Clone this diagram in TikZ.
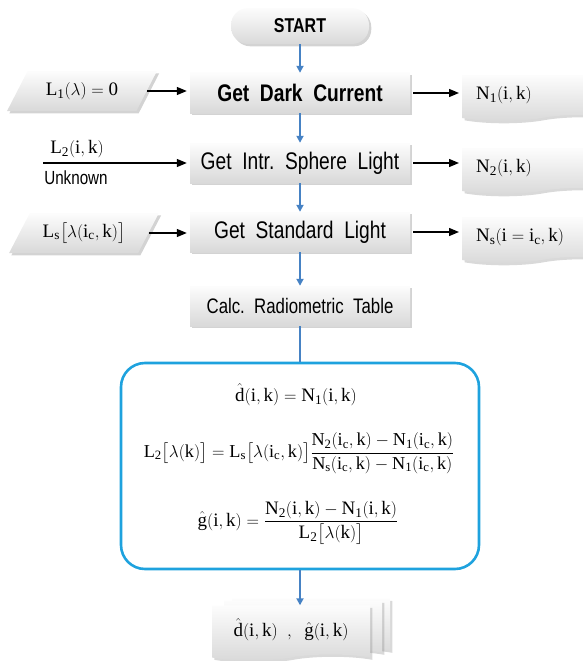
\documentclass[tikz,border=0pt]{standalone}
\usepackage{amsmath}
\usepackage{fontspec}
\setmainfont{Liberation Serif}
\newfontfamily\boxfont[FakeStretch=0.8]{Liberation Sans}
\usetikzlibrary{arrows.meta,shapes.geometric,shapes.symbols,shadows}
\definecolor{flowblue}{RGB}{70,130,196}
\definecolor{framecyan}{RGB}{30,162,222}
\begin{document}
\begin{tikzpicture}[x=1pt,y=-1pt,
    proc/.style={rectangle,top color=gray!2,bottom color=gray!30,drop shadow={opacity=0.35},
      minimum width=220pt,minimum height=40pt,inner sep=2pt,
      font=\boxfont\fontsize{24}{26}\selectfont},
    term/.style={proc,rounded corners=17pt,minimum width=138pt,minimum height=36pt,
      font=\boxfont\bfseries\fontsize{20}{22}\selectfont},
    inp/.style={trapezium,trapezium left angle=58,trapezium right angle=122,
      trapezium stretches=true,top color=gray!2,bottom color=gray!30,
      drop shadow={opacity=0.35},minimum width=150pt,minimum height=40pt,
      font=\fontsize{19}{22}\selectfont},
    docbase/.style={tape,tape bend top=none,tape bend height=6pt,top color=gray!2,
      bottom color=gray!30,drop shadow={opacity=0.3},minimum width=158pt,
      minimum height=55pt,font=\fontsize{19}{22}\selectfont},
    outd/.style={docbase,minimum height=46pt,text width=130pt,inner xsep=14pt,
      align=left,anchor=west},
    flow/.style={flowblue,line width=1.8pt,-{Triangle[length=7pt,width=7pt]}},
    feed/.style={black,line width=1.3pt,-{Triangle[length=10pt,width=8pt]},shorten >=3pt}]
  \clip (0,0) rectangle (583,661);
  % the main steps
  \node[term] (start) at (300,26) {START};
  \node[proc,font=\boxfont\bfseries\fontsize{24}{26}\selectfont] (dark) at (300,93) {Get\ \ Dark\ \ Current};
  \node[proc] (sphere) at (300,163) {Get\ \ Intr.\ \ Sphere\ \ Light};
  \node[proc] (stdl) at (300,232) {Get\ \ Standard\ \ Light};
  \node[proc,font=\boxfont\fontsize{21}{24}\selectfont] (calc) at (300,306) {Calc.\ \ Radiometric\ \ Table};
  \draw[flow] (start) -- (dark);
  \draw[flow] (dark) -- (sphere);
  \draw[flow] (sphere) -- (stdl);
  \draw[flow] (stdl) -- (calc);
  % what goes in
  \node[inp] (l1) at (82,91) {$\mathrm{L_1(\lambda)=0}$};
  \node[inp] (ls) at (84,233) {$\mathrm{L_s\bigl[\lambda(i_c,k)\bigr]}$};
  \coordinate (l2in) at (43,163);
  \node[font=\fontsize{19}{22}\selectfont] (l2lbl) at (77,149) {$\mathrm{L_2(i,k)}$};
  \node[font=\boxfont\fontsize{19}{21}\selectfont] (unknown) at (76,178) {Unknown};
  \draw[feed] (l1.east) -- (l1.east -| dark.west);
  \draw[feed] (l2in) -- (sphere.west);
  \draw[feed] (ls.east) -- (ls.east -| stdl.west);
  % what comes out
  \node[outd] (n1) at (462,95) {$\mathrm{N_1(i,k)}$};
  \node[outd] (n2) at (462,168) {$\mathrm{N_2(i,k)}$};
  \node[outd] (ns) at (462,237) {$\mathrm{N_s(i=i_c,k)}$};
  \draw[feed,shorten <=3pt] (dark.east) -- (dark.east -| n1.west);
  \draw[feed,shorten <=3pt] (sphere.east) -- (sphere.east -| n2.west);
  \draw[feed,shorten <=3pt] (stdl.east) -- (stdl.east -| ns.west);
  % the radiometric table
  \node[draw=framecyan,line width=2.6pt,rounded corners=24pt,fill=white,
        minimum width=358pt,minimum height=206pt] (eqbox) at (300,466) {};
  \draw[flowblue,line width=2pt] (calc) -- (eqbox);
  \begin{scope}[every node/.style={font=\fontsize{19}{22}\selectfont}]
    \node (eq1) at (296,395) {$\hat{\mathrm{d}}\mathrm{(i,k)=N_1(i,k)}$};
    \node[font=\fontsize{18.2}{21}\selectfont] (eq2) at (299,453) {$\mathrm{L_2\bigl[\lambda(k)\bigr]=L_s\bigl[\lambda(i_c,k)\bigr]}\dfrac{\mathrm{N_2(i_c,k)-N_1(i_c,k)}}{\mathrm{N_s(i_c,k)-N_1(i_c,k)}}$};
    \node (eq3) at (298,523) {$\hat{\mathrm{g}}\mathrm{(i,k)}=\dfrac{\mathrm{N_2(i,k)-N_1(i,k)}}{\mathrm{L_2\bigl[\lambda(k)\bigr]}}$};
  \end{scope}
  % the result, a stack of documents
  \node[docbase] (outback2) at (311,623) {};
  \node[docbase] (outback1) at (303,625) {};
  \node[docbase] (outdoc) at (291,630) {$\hat{\mathrm{d}}\mathrm{(i,k)}\ \ ,\ \ \hat{\mathrm{g}}\mathrm{(i,k)}$};
  \draw[flow] (eqbox.south) -- (eqbox.south |- outdoc.north);
\end{tikzpicture}
\end{document}
